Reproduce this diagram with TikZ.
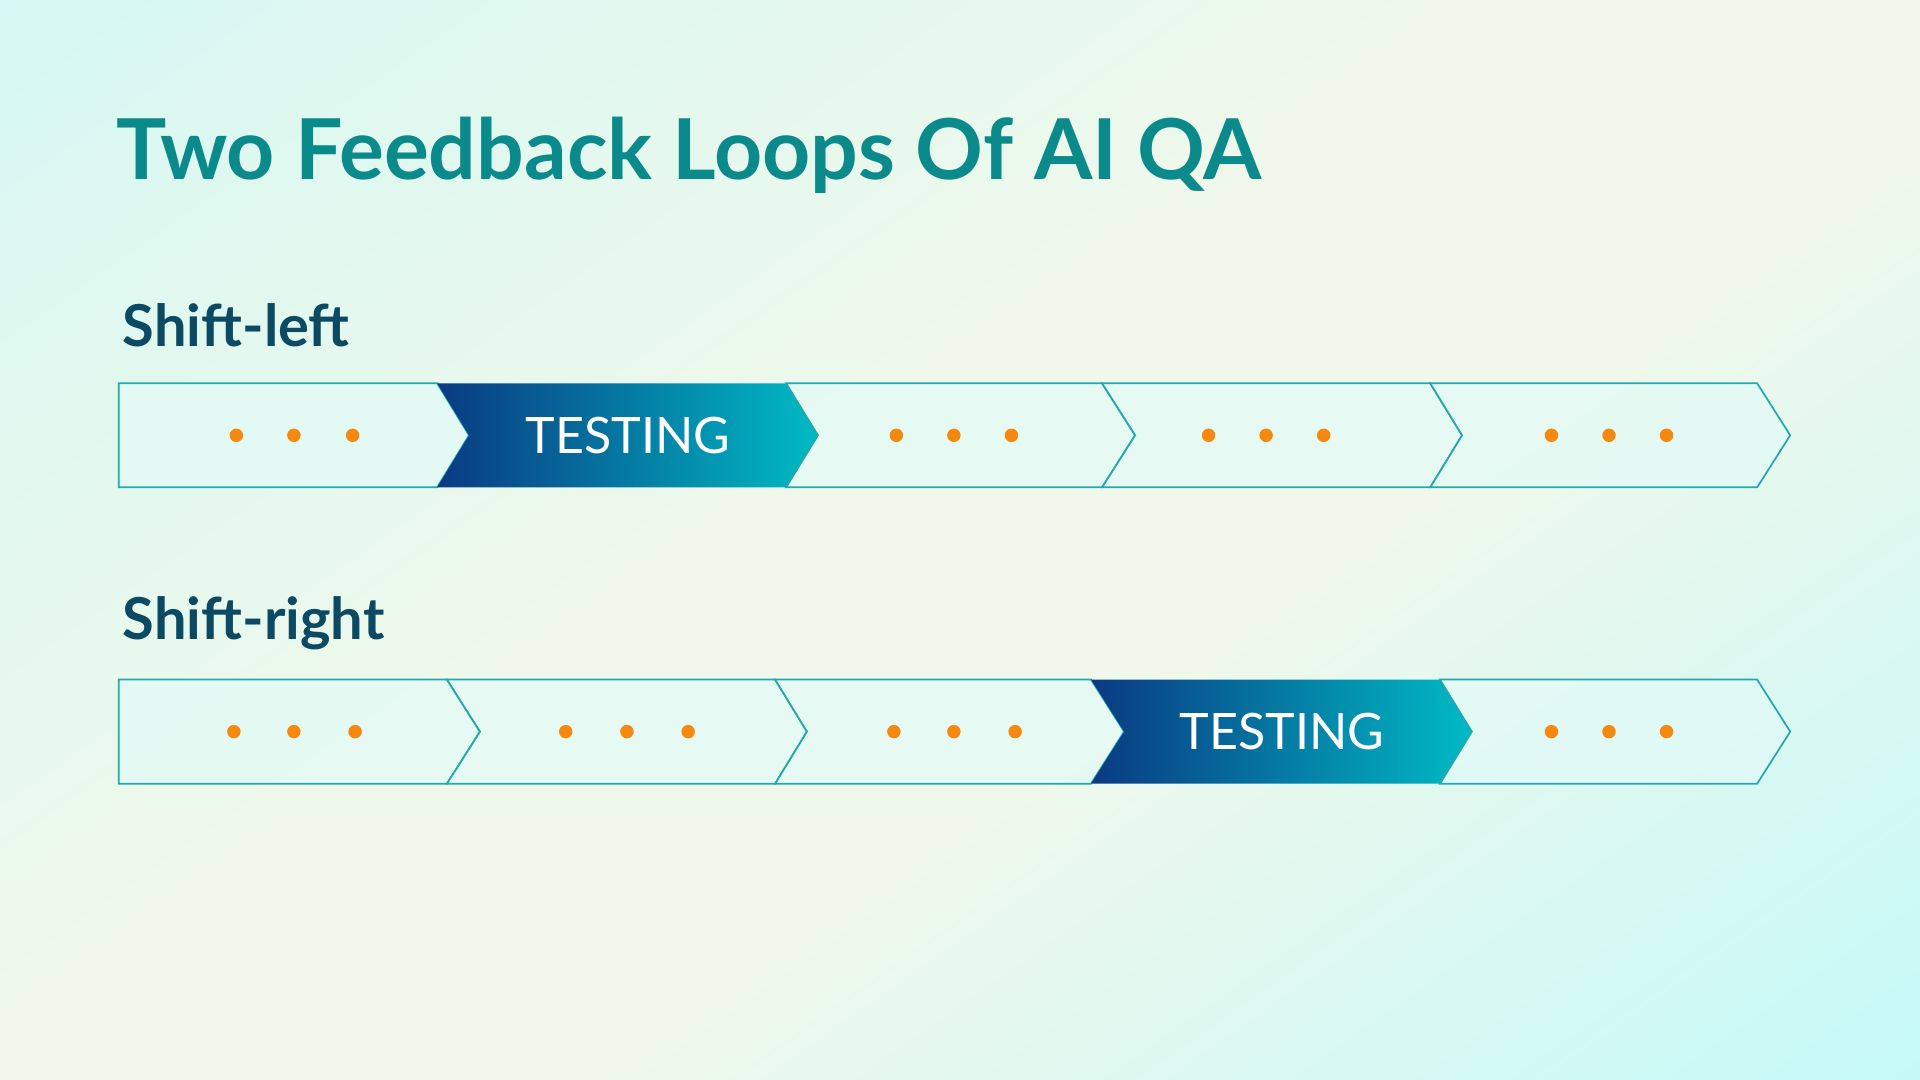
\documentclass[tikz,border=0pt]{standalone}
\usepackage{fontspec}
\setmainfont{Lato}
\usepackage{xcolor}
\usepackage{tikz}
\usetikzlibrary{positioning}
\usetikzlibrary{calc}

\definecolor{titleteal}{HTML}{0B8A8C}
\definecolor{labelnavy}{HTML}{0B4A62}
\definecolor{edgeteal}{HTML}{22A9AE}
\definecolor{dotorange}{HTML}{F5880F}
\definecolor{gradnavy}{HTML}{0A3A82}
\definecolor{gradcyan}{HTML}{00BAC4}
\definecolor{bgcyan}{HTML}{C2F7F6}
\definecolor{bgmint}{HTML}{DCF8F1}
\definecolor{bgcream}{HTML}{EFF8EB}
\definecolor{bglight}{HTML}{CCF9F6}
\definecolor{bgaqua}{HTML}{ADFBFB}
\definecolor{boxfill}{HTML}{E2FAF8}
\pgfdeclarehorizontalshading{bgshade}{100bp}{color(0bp)=(bgcyan); color(22bp)=(bgmint); color(45bp)=(bgcream); color(58bp)=(bgcream); color(80bp)=(bglight); color(100bp)=(bgaqua)}

\begin{document}
\begin{tikzpicture}[x=0.5pt, y=-0.5pt,
  stage/.style={draw=edgeteal, line width=0.7pt, fill=boxfill, fill opacity=0.65, draw opacity=1},
  stagetest/.style={left color=gradnavy, right color=gradcyan},
  rowlabel/.style={anchor=base west, inner sep=0pt, text=labelnavy, font=\fontsize{23.6}{28}\selectfont\bfseries},
  testlabel/.style={inner sep=0pt, text=white, font=\fontsize{20.5}{24}\selectfont},
  dot/.style={fill=dotorange}]
\useasboundingbox (0,0) rectangle (1568,882);
\shade[shading=bgshade, shading angle=-55] (0,0) rectangle (1568,882);

\node[anchor=base west, inner sep=0pt, text=titleteal, font=\fontsize{34.3}{42}\selectfont\bfseries] (title) at (95,147) {Two Feedback Loops Of AI QA};

% shift-left
\node[rowlabel] (shiftleft) at (100,283) {Shift-left};
\path[stage] (97,313) -- (357,313) -- (383,355.5) -- (357,398) -- (97,398) -- cycle;
\path[stagetest] (357,313) -- (642,313) -- (668,355.5) -- (642,398) -- (357,398) -- (383,355.5) -- cycle;
\path[stage] (642,313) -- (900,313) -- (927,355.5) -- (900,398) -- (642,398) -- (668,355.5) -- cycle;
\path[stage] (900,313) -- (1168,313) -- (1194,355.5) -- (1168,398) -- (900,398) -- (927,355.5) -- cycle;
\path[stage] (1168,313) -- (1435,313) -- (1462,355.5) -- (1435,398) -- (1168,398) -- (1194,355.5) -- cycle;
\node[testlabel] (testleft) at (513,355.5) {TESTING};
\fill[dot] (193,355.5) circle (5.5) (240,355.5) circle (5.5) (288,355.5) circle (5.5);
\fill[dot] (732,355.5) circle (5.5) (779,355.5) circle (5.5) (826,355.5) circle (5.5);
\fill[dot] (987,355.5) circle (5.5) (1034,355.5) circle (5.5) (1081,355.5) circle (5.5);
\fill[dot] (1267,355.5) circle (5.5) (1314,355.5) circle (5.5) (1361,355.5) circle (5.5);

% shift-right
\node[rowlabel] (shiftright) at (100,522) {Shift-right};
\path[stage] (97,555) -- (365,555) -- (392,597.5) -- (365,640) -- (97,640) -- cycle;
\path[stage] (365,555) -- (633,555) -- (659,597.5) -- (633,640) -- (365,640) -- (392,597.5) -- cycle;
\path[stage] (633,555) -- (891,555) -- (918,597.5) -- (891,640) -- (633,640) -- (659,597.5) -- cycle;
\path[stagetest] (891,555) -- (1176,555) -- (1202,597.5) -- (1176,640) -- (891,640) -- (918,597.5) -- cycle;
\path[stage] (1176,555) -- (1435,555) -- (1462,597.5) -- (1435,640) -- (1176,640) -- (1202,597.5) -- cycle;
\node[testlabel] (testright) at (1047,597.5) {TESTING};
\fill[dot] (191,597.5) circle (5.5) (240,597.5) circle (5.5) (290,597.5) circle (5.5);
\fill[dot] (462,597.5) circle (5.5) (512,597.5) circle (5.5) (562,597.5) circle (5.5);
\fill[dot] (730,597.5) circle (5.5) (779,597.5) circle (5.5) (829,597.5) circle (5.5);
\fill[dot] (1267,597.5) circle (5.5) (1314,597.5) circle (5.5) (1361,597.5) circle (5.5);
\end{tikzpicture}
\end{document}
